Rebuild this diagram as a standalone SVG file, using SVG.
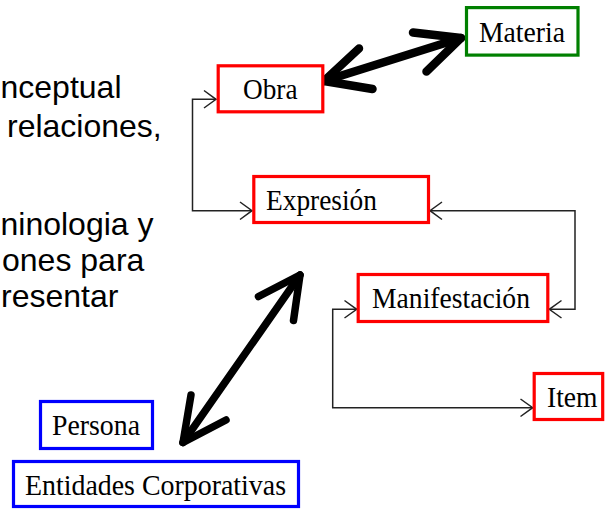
<svg xmlns="http://www.w3.org/2000/svg" width="605" height="510" viewBox="0 0 605 510">
<style>
.lbl{font-family:"Liberation Serif","Times New Roman",serif;font-size:28.5px;fill:#000}
.side{font-family:"Liberation Sans",Arial,sans-serif;font-size:32px;fill:#000}
.red{fill:#fff;stroke:#ff0000;stroke-width:3.2}
.blue{fill:#fff;stroke:#0000ff;stroke-width:3.2}
.green{fill:#fff;stroke:#008000;stroke-width:3.2}
.thin{fill:none;stroke:#222;stroke-width:1.5}
.thick{fill:none;stroke:#000;stroke-linecap:round;stroke-linejoin:round}
</style>
<rect width="605" height="510" fill="#fff"/>
<g id="side-text">
<text class="side" x="0.5" y="98">nceptual</text>
<text class="side" x="7" y="137">relaciones,</text>
<text class="side" x="0.5" y="235">ninologia y</text>
<text class="side" x="2" y="271">ones para</text>
<text class="side" x="1" y="307">resentar</text>
</g>
<g id="connectors">
<path class="thin" d="M216,99.3 H192.5 V210.7 H252"/>
<path class="thin" d="M204,90.5 L216,99.3 L204,108"/>
<path class="thin" d="M240,202 L252,210.7 L240,219.5"/>
<path class="thin" d="M430,210.7 H575 V309.3 H549.3"/>
<path class="thin" d="M442,202 L430,210.7 L442,219.5"/>
<path class="thin" d="M561.5,300.5 L549.3,309.3 L561.5,318"/>
<path class="thin" d="M356.7,309.3 H332.7 V407.7 H532.7"/>
<path class="thin" d="M344.5,300.5 L356.7,309.3 L344.5,318"/>
<path class="thin" d="M520.5,399 L532.7,407.7 L520.5,416.5"/>
<path class="thick" stroke-width="8.5" d="M324,81 L461,38"/>
<path class="thick" stroke-width="8.5" d="M359,48.5 L324,81 L372.5,89"/>
<path class="thick" stroke-width="8.5" d="M413,32.5 L461,38 L426.5,71.5"/>
<path class="thick" stroke-width="7.5" d="M300,275 L183,442.5"/>
<path class="thick" stroke-width="7.5" d="M258.5,296.5 L300,275 L293.5,320.5"/>
<path class="thick" stroke-width="7.5" d="M191,395 L183,442.5 L226,420"/>
</g>
<g id="obra"><rect class="red" x="218.2" y="65.8" width="104.6" height="46"/><text class="lbl" x="243" y="99" textLength="54.5" lengthAdjust="spacingAndGlyphs">Obra</text></g>
<g id="materia"><rect class="green" x="466.5" y="7.6" width="111.5" height="47.5"/><text class="lbl" x="479" y="42" textLength="86" lengthAdjust="spacingAndGlyphs">Materia</text></g>
<g id="expresion"><rect class="red" x="253.8" y="176.5" width="174.7" height="46"/><text class="lbl" x="266" y="210" textLength="111" lengthAdjust="spacingAndGlyphs">Expresión</text></g>
<g id="manifestacion"><rect class="red" x="358.2" y="274.5" width="189.6" height="47"/><text class="lbl" x="372" y="308" textLength="158" lengthAdjust="spacingAndGlyphs">Manifestación</text></g>
<g id="item"><rect class="red" x="534.2" y="373.5" width="68.5" height="46"/><text class="lbl" x="547" y="407" textLength="50.5" lengthAdjust="spacingAndGlyphs">Item</text></g>
<g id="persona"><rect class="blue" x="40.5" y="401.5" width="112" height="47"/><text class="lbl" x="52" y="435" textLength="88" lengthAdjust="spacingAndGlyphs">Persona</text></g>
<g id="entidades"><rect class="blue" x="13.5" y="461.5" width="285" height="45"/><text class="lbl" x="25" y="495" textLength="261" lengthAdjust="spacingAndGlyphs">Entidades Corporativas</text></g>
</svg>
